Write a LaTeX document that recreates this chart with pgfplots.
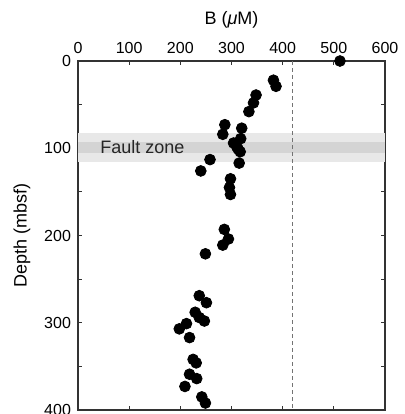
\documentclass[border=0pt]{standalone}
\usepackage{fontspec}
\setmainfont{Liberation Sans}
\usepackage{pgfplots}
\pgfplotsset{compat=1.18}
\usetikzlibrary{calc}

\begin{document}
\begin{tikzpicture}
\begin{axis}[
    name=ax,
    scale only axis,
    width=153.5pt, height=174.5pt,
    xmin=0, xmax=600, ymin=0, ymax=400,
    y dir=reverse,
    xtick={0,100,...,600},
    ytick={0,100,...,400},
    minor y tick num=1,
    xticklabel pos=top,
    tick align=inside,
    major tick length=2pt, minor tick length=2pt,
    axis line style={line width=0.75pt, black!80},
    every tick/.style={line width=0.6pt, black!80},
    /pgf/number format/assume math mode=true,
    /pgf/number format/1000 sep={},
    ticklabel style={font=\fontsize{8}{9}\selectfont},
    label style={font=\fontsize{9}{10}\selectfont},
    xlabel={B (\textit{μ}M)},
    xlabel style={at={(axis description cs:0.5,1)}, anchor=center, yshift=20.5pt},
    ylabel={Depth (mbsf)},
    ylabel style={at={(axis description cs:0,0.5)}, anchor=center, rotate=0, yshift=28pt},
    clip=false,
]
% fault zone band
\fill[black!9] (axis cs:0,83) rectangle (axis cs:600,116);
\fill[black!17] (axis cs:0,93) rectangle (axis cs:600,106);
\node[anchor=west, font=\fontsize{9}{10}\selectfont, black!85] at (axis cs:30,99) {Fault zone};
% seawater reference
\draw[black!55, line width=0.5pt, dash pattern=on 2pt off 1.5pt] (axis cs:420,0) -- (axis cs:420,400);

\addplot[only marks, mark=*, mark size=2.7pt, black] coordinates {
    (512,0)
    (382,22) (387,29) (348,39) (343,48) (334,58)
    (287,73) (320,77) (283,84) (318,89) (304,94)
    (310,98) (313,101) (317,104) (258,113) (315,117)
    (240,126) (298,135) (296,145) (298,153)
    (286,193) (294,204) (283,211) (249,221)
    (237,269) (251,277) (229,288) (237,294) (247,298)
    (212,301) (198,307) (218,317)
    (225,342) (231,346) (218,359) (232,364) (209,373)
    (242,385) (249,392)
};
\end{axis}
\pgfresetboundingbox
\path[use as bounding box] ($(ax.south west)+(-39pt,-2pt)$) rectangle ($(ax.north east)+(10pt,30.5pt)$);
\end{tikzpicture}
\end{document}
